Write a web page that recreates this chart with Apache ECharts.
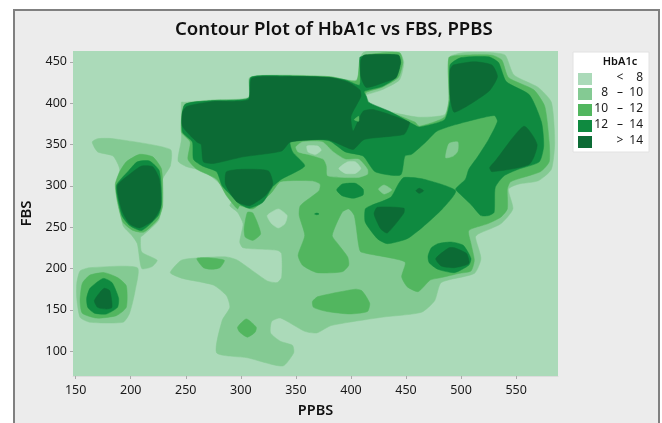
<!DOCTYPE html>
<html>
<head>
<meta charset="utf-8">
<script src="https://cdn.jsdelivr.net/npm/echarts@6/dist/echarts.min.js"></script>
<style>
  html, body { margin: 0; padding: 0; background: #fff; overflow: hidden; }
  #main { width: 662px; height: 423px; }
</style>
</head>
<body>
<div id="main"></div>
<script>
// tick labels
var ppbsTicks = [150, 200, 250, 300, 350, 400, 450, 500, 550];
var fbsTicks = [100, 150, 200, 250, 300, 350, 400, 450];

// legend rows
var legendLow = ['', '8', '10', '12', ''];
var legendMid = ['<', '\u2013', '\u2013', '\u2013', '>'];
var legendHigh = ['8', '10', '12', '14', '14'];
var bandColors = ['#abdab9', '#84ca93', '#52b65f', '#0f8a40', '#0c6b35'];

// contour regions, [PPBS, FBS]
var band8to10 = [
  [[246,401],[249,401],[275,404],[307,407],[308,431],[338,434],[381,432],[405,428],[411,461],[444,461],[448,449],[444,428],[428,416],[414,410],[414,408],[418,398],[434,390],[461,383],[485,386],[489,404],[489,455],[502,461],[528,461],[540,458],[548,434],[570,419],[582,401],[585,353],[582,320],[570,306],[552,302],[543,296],[547,272],[536,254],[516,242],[513,238],[518,212],[512,194],[482,183],[476,161],[464,147],[428,141],[382,131],[369,122],[358,124],[336,140],[328,136],[327,122],[336,112],[347,107],[348,98],[338,82],[306,92],[278,98],[283,137],[290,153],[287,167],[275,180],[247,188],[236,195],[246,210],[263,213],[287,214],[297,210],[324,185],[333,183],[337,189],[337,218],[333,222],[302,225],[299,232],[302,254],[297,268],[290,276],[293,284],[278,306],[266,318],[251,323],[243,330],[246,356]],
  [[151,182],[154,197],[163,201],[206,201],[204,173],[199,146],[193,135],[163,135],[154,141],[151,164]],
  [[165,353],[170,357],[184,357],[236,344],[236,324],[229,308],[226,260],[211,240],[209,238],[210,220],[224,210],[219,202],[210,200],[206,230],[201,240],[193,252],[187,300],[190,320],[184,336],[170,341]]
];
var band10to12 = [
  [[156,182],[163,192],[176,195],[188,189],[196,179],[196,153],[187,143],[169,140],[156,146],[154,161]],
  [[196,329],[208,338],[220,335],[228,320],[229,276],[225,260],[212,244],[202,246],[193,256],[188,280],[186,302],[190,317]],
  [[249,398],[275,403],[307,406],[309,431],[338,433],[381,432],[405,427],[408,452],[412,458],[444,461],[447,449],[443,431],[428,419],[414,413],[412,404],[421,395],[435,389],[458,377],[462,372],[485,383],[489,404],[489,455],[502,458],[528,458],[537,452],[543,431],[566,416],[576,396],[580,353],[580,329],[572,317],[545,305],[542,296],[542,272],[536,262],[524,254],[507,246],[509,230],[512,210],[509,197],[498,194],[482,189],[472,186],[461,172],[451,178],[446,190],[449,208],[409,220],[407,228],[403,264],[398,272],[392,268],[383,240],[388,230],[397,214],[398,204],[392,196],[369,195],[356,204],[352,216],[358,240],[353,264],[354,276],[371,294],[372,302],[365,306],[336,305],[328,292],[311,272],[299,276],[297,272],[287,288],[278,308],[260,320],[252,332],[254,353],[246,365]],
  [[306,268],[311,267],[318,242],[311,234],[304,238],[303,248]],
  [[260,212],[269,213],[285,210],[281,201],[274,199],[266,201]],
  [[297,129],[305,139],[314,129],[313,123],[306,117],[299,123]],
  [[365,160],[370,166],[404,175],[410,173],[417,158],[415,148],[399,145],[378,148],[366,153]]
];
var holes8to10 = [
  [[350,347],[356,353],[374,353],[384,341],[395,332],[407,332],[415,320],[415,314],[406,310],[379,312],[378,324],[375,332],[361,338],[352,341]],
  [[425,296],[430,301],[437,295],[430,290]],
  [[489,351],[497,353],[497,342],[493,336],[486,334]]
];
var holesBelow8 = [
  [[360,348],[370,348],[373,343],[368,338],[361,341]],
  [[389,321],[397,329],[404,329],[409,321],[404,315],[395,315]],
  [[324,264],[334,272],[342,264],[340,254],[334,249],[328,254]]
];
var band12to14 = [
  [[249,398],[275,403],[307,406],[309,431],[338,433],[381,431],[395,428],[408,422],[408,455],[411,457],[443,458],[445,449],[441,431],[428,420],[412,414],[414,408],[416,401],[435,390],[457,374],[462,371],[485,380],[490,404],[490,446],[500,455],[525,456],[534,449],[541,426],[562,410],[573,377],[575,348],[571,329],[552,320],[539,312],[531,298],[530,268],[525,264],[518,264],[510,276],[499,290],[495,296],[504,308],[507,320],[515,335],[525,356],[533,378],[530,385],[495,374],[478,366],[468,353],[455,338],[449,336],[445,313],[422,317],[411,336],[395,341],[381,354],[369,356],[345,353],[347,341],[358,324],[337,308],[329,299],[320,280],[308,273],[299,278],[290,290],[283,300],[278,317],[265,324],[257,332],[256,353],[247,365]],
  [[448,310],[466,308],[495,294],[483,272],[465,250],[451,236],[433,230],[424,236],[413,256],[413,272],[418,276],[436,286],[443,302]],
  [[470,215],[473,225],[479,230],[491,232],[502,228],[509,212],[507,204],[494,195],[479,199],[471,207]],
  [[387,295],[392,302],[404,303],[411,296],[411,289],[402,285],[392,288]],
  [[160,164],[163,176],[175,188],[183,183],[189,164],[188,153],[178,145],[167,146],[161,153]],
  [[198,318],[206,329],[217,330],[226,318],[228,280],[225,264],[210,246],[199,252],[192,264],[187,300]],
  [[367,266],[369,267],[371,266],[369,265]]
];
var bandAbove14 = [
  [[167,161],[172,171],[176,176],[181,173],[183,153],[178,151],[170,153]],
  [[201,316],[210,324],[220,323],[226,308],[227,274],[220,258],[208,249],[199,254],[192,270],[188,300]],
  [[251,396],[275,402],[307,404],[310,430],[338,432],[381,431],[398,425],[408,416],[409,408],[400,384],[402,366],[411,390],[421,392],[453,377],[452,371],[448,362],[412,356],[402,344],[390,350],[378,356],[345,353],[337,342],[302,335],[275,327],[266,329],[264,350],[260,353],[247,372],[247,389]],
  [[287,317],[302,320],[325,318],[329,302],[322,288],[308,276],[297,280],[292,288],[286,302]],
  [[412,458],[443,458],[445,449],[441,431],[430,425],[414,419],[409,432],[409,452]],
  [[493,446],[512,450],[528,446],[533,432],[525,414],[494,389],[490,408],[490,440]],
  [[526,322],[531,330],[557,372],[569,350],[562,326],[528,317]],
  [[421,266],[424,274],[448,273],[448,267],[433,243],[427,248]],
  [[477,212],[489,225],[494,225],[505,218],[507,206],[494,201],[482,203]],
  [[459,294],[462,297],[466,294],[462,291]]
];
var sliverSpot = [
  [[403,380],[407,384],[407,378]]
];

function layer (polys, color) {
  return {
    type: 'custom',
    silent: true,
    clip: true,
    animation: false,
    data: polys.map(function (p, i) { return [i]; }),
    renderItem: function (params, api) {
      var pts = polys[api.value(0)].map(function (p) { return api.coord(p); });
      return {
        type: 'polygon',
        shape: { points: pts, smooth: 0.2 },
        style: { fill: color, stroke: color, lineWidth: 0.5 }
      };
    }
  };
}

// legend drawn as real text next to the swatches
var legendFont = '12px "Noto Sans", sans-serif';
var legendRows = [];
var rowY = [78, 93, 109, 125, 141];
bandColors.forEach(function (c, i) {
  legendRows.push({ type: 'rect', shape: { x: 578, y: rowY[i] - 5, width: 14, height: 12 }, style: { fill: c } });
  legendRows.push({ type: 'text', x: 608, y: rowY[i], style: { text: legendLow[i], font: legendFont, fill: '#1a1a1a', align: 'right', verticalAlign: 'middle' } });
  legendRows.push({ type: 'text', x: 620, y: rowY[i], style: { text: legendMid[i], font: legendFont, fill: '#1a1a1a', align: 'center', verticalAlign: 'middle' } });
  legendRows.push({ type: 'text', x: 643, y: rowY[i], style: { text: legendHigh[i], font: legendFont, fill: '#1a1a1a', align: 'right', verticalAlign: 'middle' } });
});

var chart = echarts.init(document.getElementById('main'));
var option = {
  backgroundColor: '#fff',
  animation: false,
  title: {
    text: 'Contour Plot of HbA1c vs FBS, PPBS',
    left: 170,
    top: 15,
    textStyle: { fontFamily: '"Noto Sans", sans-serif', fontSize: 18.6, fontWeight: 600, color: '#111' }
  },
  grid: {
    left: 73, right: 104, top: 51, bottom: 45,
    show: true,
    backgroundColor: bandColors[0],
    borderWidth: 0
  },
  xAxis: {
    type: 'value',
    min: 147.6,
    max: 588,
    name: 'PPBS',
    nameLocation: 'middle',
    nameGap: 27,
    nameTextStyle: { fontFamily: '"Noto Sans", sans-serif', fontSize: 14.5, fontWeight: 600, color: '#111' },
    splitLine: { show: false },
    axisLine: { show: true, lineStyle: { color: '#dcdcdc', width: 1 } },
    axisTick: { show: true, length: 3, customValues: ppbsTicks, lineStyle: { color: '#aaa' } },
    axisLabel: { customValues: ppbsTicks, margin: 8, fontFamily: '"Noto Sans", sans-serif', fontSize: 12.5, color: '#1a1a1a' }
  },
  yAxis: {
    type: 'value',
    min: 70,
    max: 463,
    name: 'FBS',
    nameLocation: 'middle',
    nameGap: 36,
    nameTextStyle: { fontFamily: '"Noto Sans", sans-serif', fontSize: 15, fontWeight: 600, color: '#111' },
    splitLine: { show: false },
    axisLine: { show: false },
    axisTick: { show: true, length: 3, customValues: fbsTicks, lineStyle: { color: '#aaa' } },
    axisLabel: { customValues: fbsTicks, margin: 6, fontFamily: '"Noto Sans", sans-serif', fontSize: 12.5, color: '#1a1a1a' }
  },
  graphic: [
    { type: 'rect', z: -10, shape: { x: 14, y: 10, width: 645, height: 430 }, style: { fill: '#ececec', stroke: '#808080', lineWidth: 2 } },
    { type: 'group', children: [
      { type: 'rect', shape: { x: 573, y: 52, width: 76, height: 100 }, style: { fill: '#fff', stroke: '#e2e2e2', lineWidth: 1 } },
      { type: 'text', x: 620, y: 62, style: { text: 'HbA1c', font: '600 11px "Noto Sans", sans-serif', fill: '#111', align: 'center', verticalAlign: 'middle' } }
    ].concat(legendRows) }
  ],
  series: [
    layer(band8to10, bandColors[1]),
    layer(band10to12, bandColors[2]),
    layer(holes8to10, bandColors[1]),
    layer(holesBelow8, bandColors[0]),
    layer(band12to14, bandColors[3]),
    layer(bandAbove14, bandColors[4]),
    layer(sliverSpot, bandColors[2])
  ]
};
chart.setOption(option);
</script>
</body>
</html>
